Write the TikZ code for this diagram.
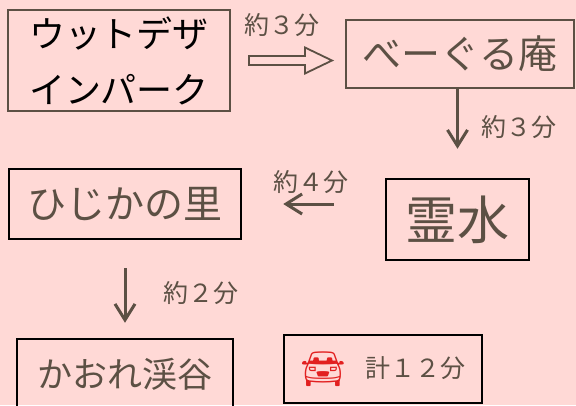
\documentclass[tikz,border=0pt]{standalone}
\usepackage{fontspec}
\setmainfont{Noto Sans CJK JP}
\newfontfamily\emojifont{Noto Emoji}
\usetikzlibrary{arrows.meta}
\definecolor{bgpink}{RGB}{255,217,214}
\definecolor{inkbrown}{RGB}{92,80,68}
\definecolor{carred}{RGB}{226,32,32}

\begin{document}
\begin{tikzpicture}[x=1pt, y=-1pt,
    spot/.style={draw=black, line width=2.5pt, text=inkbrown, inner sep=0pt},
    spotb/.style={spot, draw=inkbrown, line width=2pt},
    hop/.style={draw=inkbrown, line width=3pt, -{Straight Barb[length=16pt, width=20pt]}},
    mins/.style={text=inkbrown, font=\fontsize{25}{25}\selectfont, inner sep=0pt}]
    \fill[bgpink] (0,0) rectangle (576,405);
    \useasboundingbox (0,0) rectangle (576,405);
    % places
    \node[spotb, minimum width=222pt, minimum height=101pt, align=center, text=black,
          font=\fontsize{36}{56}\selectfont] (wood) at (119,60.5) {ウットデザ\\インパーク};
    \node[spotb, minimum width=228pt, minimum height=68pt,
          font=\fontsize{39}{39}\selectfont] (bagel) at (460,54) {べーぐる庵};
    \node[spot, minimum width=232pt, minimum height=70pt,
          font=\fontsize{39}{39}\selectfont] (hiji) at (125,204) {ひじかの里};
    \node[spot, minimum width=143pt, minimum height=81pt,
          font=\fontsize{52}{52}\selectfont] (spring) at (457.5,219.5) {霊水};
    \node[spot, minimum width=216pt, minimum height=70pt,
          font=\fontsize{35}{35}\selectfont] (kaore) at (125,374) {かおれ渓谷};
    \node[spot, minimum width=198pt, minimum height=68pt,
          font=\fontsize{25}{25}\selectfont] (total) at (383,369)
          {\raisebox{-4pt}{\emojifont\fontsize{36}{36}\selectfont\color{carred}🚘}\hspace{20pt}計１２分};
    % moves
    \coordinate (go1) at ([xshift=18pt]wood.east);
    \coordinate (go2) at ([xshift=-13pt]wood.east -| bagel.west);
    \draw[draw=inkbrown, line width=1.8pt, line join=miter]
          ([yshift=-4.5pt]go1) -- ([xshift=-27pt,yshift=-4.5pt]go2)
          -- ([xshift=-27pt,yshift=-13pt]go2) -- (go2)
          -- ([xshift=-27pt,yshift=13pt]go2) -- ([xshift=-27pt,yshift=4.5pt]go2)
          -- ([yshift=4.5pt]go1) -- cycle;
    \draw[hop, shorten >=29pt] (bagel.south -| spring) -- (spring);
    \draw[hop, shorten <=51pt, shorten >=41pt] (spring.west |- hiji) -- (hiji);
    \draw[hop, shorten <=28pt, shorten >=15pt] (hiji) -- (kaore);
    % times
    \node[mins] (t1) at (282,25) {約３分};
    \node[mins] (t2) at (519,127) {約３分};
    \node[mins] (t3) at (311,182) {約４分};
    \node[mins] (t4) at (201,293) {約２分};
\end{tikzpicture}
\end{document}
